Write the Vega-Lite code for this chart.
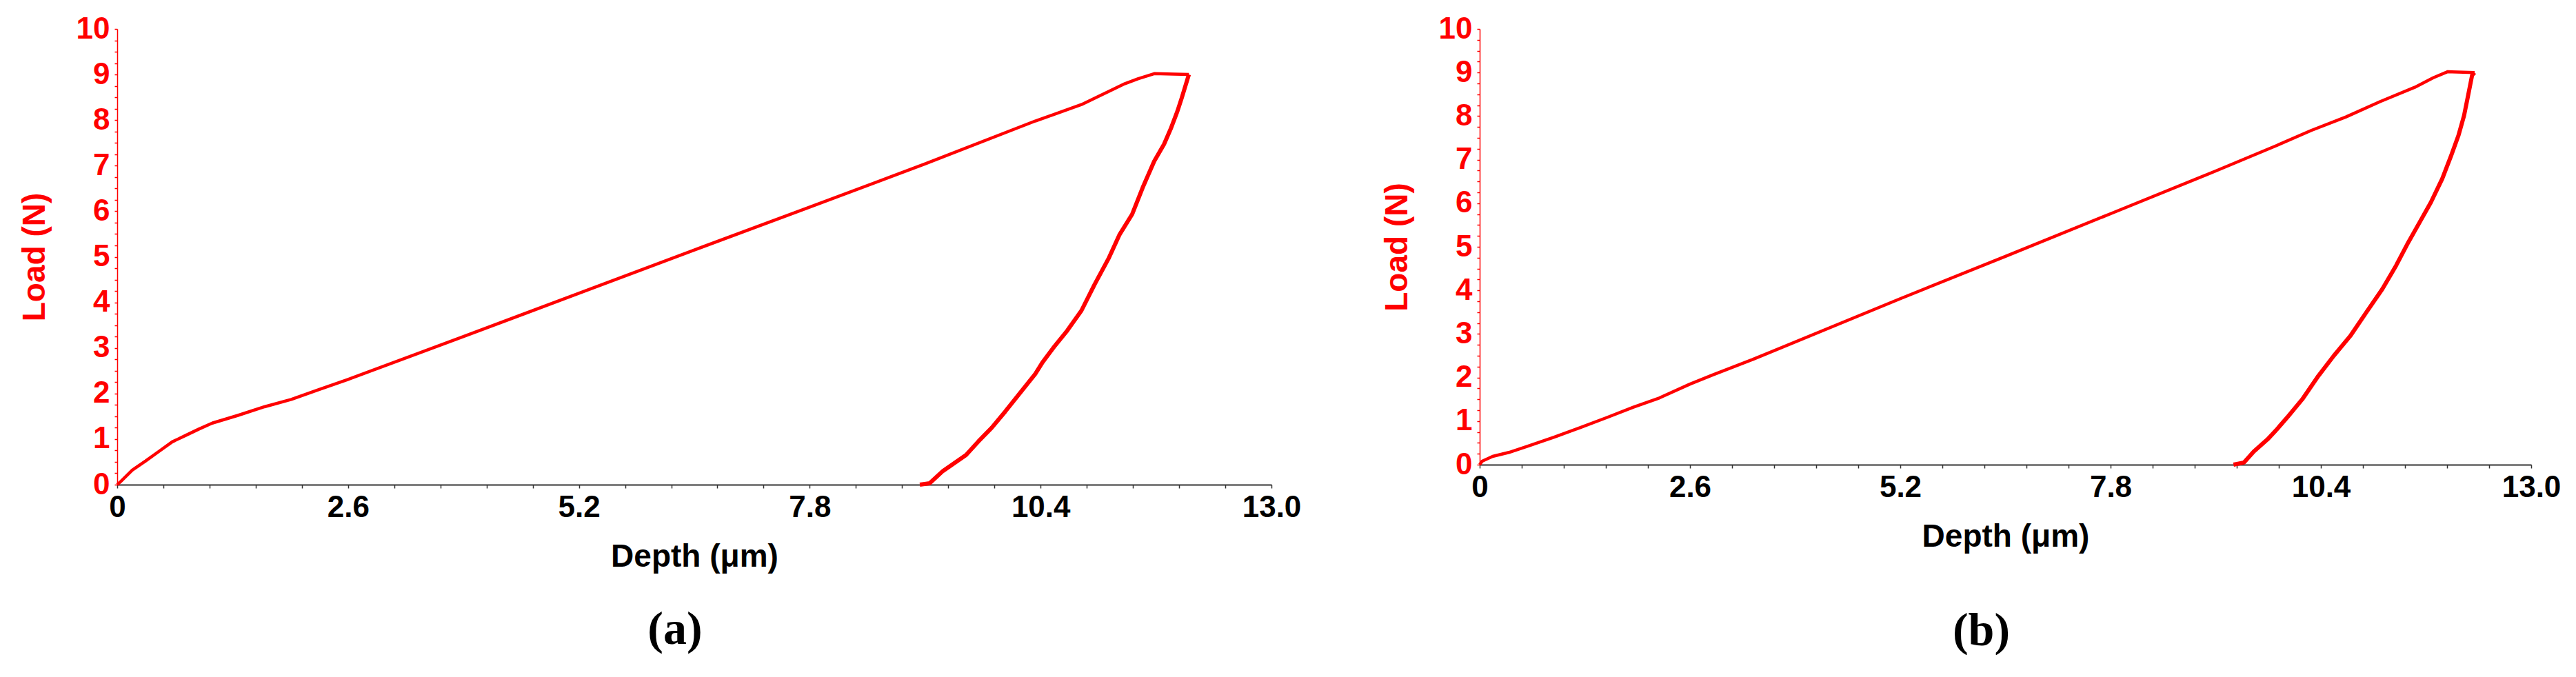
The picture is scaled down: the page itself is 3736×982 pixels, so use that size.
{
  "$schema": "https://vega.github.io/schema/vega-lite/v6.json",
  "background": "white",
  "padding": {"left": 27, "top": 20, "right": 0, "bottom": 0},
  "spacing": 116,
  "datasets": {
    "a": [
      {"phase": "loading", "depth": 0, "load": 0},
      {"phase": "loading", "depth": 0.04, "load": 0.07},
      {"phase": "loading", "depth": 0.17, "load": 0.32},
      {"phase": "loading", "depth": 0.32, "load": 0.52},
      {"phase": "loading", "depth": 0.47, "load": 0.73},
      {"phase": "loading", "depth": 0.62, "load": 0.94},
      {"phase": "loading", "depth": 0.77, "load": 1.08},
      {"phase": "loading", "depth": 0.92, "load": 1.22},
      {"phase": "loading", "depth": 1.07, "load": 1.35},
      {"phase": "loading", "depth": 1.36, "load": 1.52},
      {"phase": "loading", "depth": 1.66, "load": 1.71},
      {"phase": "loading", "depth": 1.96, "load": 1.87},
      {"phase": "loading", "depth": 2.26, "load": 2.08},
      {"phase": "loading", "depth": 2.6, "load": 2.31},
      {"phase": "loading", "depth": 3.9, "load": 3.25},
      {"phase": "loading", "depth": 5.2, "load": 4.2},
      {"phase": "loading", "depth": 6.5, "load": 5.15},
      {"phase": "loading", "depth": 7.8, "load": 6.09},
      {"phase": "loading", "depth": 9.1, "load": 7.04},
      {"phase": "loading", "depth": 10.34, "load": 7.98},
      {"phase": "loading", "depth": 10.86, "load": 8.34},
      {"phase": "loading", "depth": 11.35, "load": 8.8},
      {"phase": "loading", "depth": 11.5, "load": 8.91},
      {"phase": "loading", "depth": 11.6, "load": 8.97},
      {"phase": "loading", "depth": 11.68, "load": 9.02},
      {"phase": "loading", "depth": 11.9, "load": 9.01},
      {"phase": "loading", "depth": 12.07, "load": 9.0},
      {"phase": "unloading", "depth": 12.07, "load": 9.0},
      {"phase": "unloading", "depth": 11.99, "load": 8.49},
      {"phase": "unloading", "depth": 11.94, "load": 8.19},
      {"phase": "unloading", "depth": 11.87, "load": 7.83},
      {"phase": "unloading", "depth": 11.79, "load": 7.47},
      {"phase": "unloading", "depth": 11.68, "load": 7.1},
      {"phase": "unloading", "depth": 11.55, "load": 6.52},
      {"phase": "unloading", "depth": 11.43, "load": 5.93},
      {"phase": "unloading", "depth": 11.29, "load": 5.49},
      {"phase": "unloading", "depth": 11.17, "load": 4.98},
      {"phase": "unloading", "depth": 11.01, "load": 4.4},
      {"phase": "unloading", "depth": 10.86, "load": 3.82},
      {"phase": "unloading", "depth": 10.7, "load": 3.38},
      {"phase": "unloading", "depth": 10.55, "load": 3.02},
      {"phase": "unloading", "depth": 10.42, "load": 2.68},
      {"phase": "unloading", "depth": 10.34, "load": 2.43},
      {"phase": "unloading", "depth": 10.0, "load": 1.6},
      {"phase": "unloading", "depth": 9.85, "load": 1.25},
      {"phase": "unloading", "depth": 9.7, "load": 0.95},
      {"phase": "unloading", "depth": 9.56, "load": 0.65},
      {"phase": "unloading", "depth": 9.3, "load": 0.3},
      {"phase": "unloading", "depth": 9.15, "load": 0.03},
      {"phase": "unloading", "depth": 9.04, "load": 0}
    ],
    "b": [
      {"phase": "loading", "depth": 0, "load": 0},
      {"phase": "loading", "depth": 0.03, "load": 0.08},
      {"phase": "loading", "depth": 0.16, "load": 0.19},
      {"phase": "loading", "depth": 0.36, "load": 0.28},
      {"phase": "loading", "depth": 0.59, "load": 0.42},
      {"phase": "loading", "depth": 0.92, "load": 0.63},
      {"phase": "loading", "depth": 1.24, "load": 0.85},
      {"phase": "loading", "depth": 1.57, "load": 1.08},
      {"phase": "loading", "depth": 1.9, "load": 1.32},
      {"phase": "loading", "depth": 2.22, "load": 1.53},
      {"phase": "loading", "depth": 2.6, "load": 1.85},
      {"phase": "loading", "depth": 2.88, "load": 2.06},
      {"phase": "loading", "depth": 3.37, "load": 2.41},
      {"phase": "loading", "depth": 5.2, "load": 3.81},
      {"phase": "loading", "depth": 6.5, "load": 4.78},
      {"phase": "loading", "depth": 7.8, "load": 5.76},
      {"phase": "loading", "depth": 9.1, "load": 6.74},
      {"phase": "loading", "depth": 9.86, "load": 7.33},
      {"phase": "loading", "depth": 10.28, "load": 7.67},
      {"phase": "loading", "depth": 10.71, "load": 7.98},
      {"phase": "loading", "depth": 11.13, "load": 8.33},
      {"phase": "loading", "depth": 11.56, "load": 8.66},
      {"phase": "loading", "depth": 11.79, "load": 8.88},
      {"phase": "loading", "depth": 11.97, "load": 9.02},
      {"phase": "loading", "depth": 12.3, "load": 9.0},
      {"phase": "unloading", "depth": 12.3, "load": 9.0},
      {"phase": "unloading", "depth": 12.27, "load": 8.94},
      {"phase": "unloading", "depth": 12.22, "load": 8.47},
      {"phase": "unloading", "depth": 12.17, "load": 8.01},
      {"phase": "unloading", "depth": 12.1, "load": 7.55},
      {"phase": "unloading", "depth": 12.01, "load": 7.09},
      {"phase": "unloading", "depth": 11.9, "load": 6.56},
      {"phase": "unloading", "depth": 11.76, "load": 6.02},
      {"phase": "unloading", "depth": 11.62, "load": 5.56},
      {"phase": "unloading", "depth": 11.48, "load": 5.1},
      {"phase": "unloading", "depth": 11.33, "load": 4.57},
      {"phase": "unloading", "depth": 11.16, "load": 4.03},
      {"phase": "unloading", "depth": 10.96, "load": 3.49},
      {"phase": "unloading", "depth": 10.77, "load": 2.97},
      {"phase": "unloading", "depth": 10.56, "load": 2.5},
      {"phase": "unloading", "depth": 10.37, "load": 2.04},
      {"phase": "unloading", "depth": 10.17, "load": 1.5},
      {"phase": "unloading", "depth": 10.0, "load": 1.12},
      {"phase": "unloading", "depth": 9.86, "load": 0.82},
      {"phase": "unloading", "depth": 9.74, "load": 0.58},
      {"phase": "unloading", "depth": 9.57, "load": 0.3},
      {"phase": "unloading", "depth": 9.45, "load": 0.05},
      {"phase": "unloading", "depth": 9.32, "load": 0}
    ]
  },
  "hconcat": [
    {
      "width": 1674,
      "height": 661,
      "data": {"name": "a"},
      "title": {"text": "(a)", "orient": "bottom", "anchor": "middle", "offset": 50, "dx": -28, "font": "Liberation Serif", "fontSize": 68, "fontWeight": "bold", "color": "black"},
      "mark": {"type": "line", "color": "#ff0000", "strokeJoin": "round"},
      "encoding": {
        "x": {"field": "depth", "type": "quantitative", "scale": {"domain": [0, 13], "nice": false, "zero": false},
          "axis": {"title": "Depth (μm)", "values": [0, 0.52, 1.04, 1.56, 2.08, 2.6, 3.12, 3.64, 4.16, 4.68, 5.2, 5.72, 6.24, 6.76, 7.28, 7.8, 8.32, 8.84, 9.36, 9.88, 10.4, 10.92, 11.44, 11.96, 12.48, 13.0],
            "labelExpr": "abs(datum.value/2.6 - round(datum.value/2.6)) < 0.001 ? (datum.value == 0 ? '0' : format(datum.value, '.1f')) : ''"}},
        "y": {"field": "load", "type": "quantitative", "scale": {"domain": [0, 10], "nice": false},
          "axis": {"title": "Load (N)", "values": [0, 0.25, 0.5, 0.75, 1, 1.25, 1.5, 1.75, 2, 2.25, 2.5, 2.75, 3, 3.25, 3.5, 3.75, 4, 4.25, 4.5, 4.75, 5, 5.25, 5.5, 5.75, 6, 6.25, 6.5, 6.75, 7, 7.25, 7.5, 7.75, 8, 8.25, 8.5, 8.75, 9, 9.25, 9.5, 9.75, 10],
            "labelExpr": "datum.value % 1 == 0 ? format(datum.value, 'd') : ''"}},
        "detail": {"field": "phase"},
        "strokeWidth": {"field": "phase", "type": "nominal", "scale": {"domain": ["loading", "unloading"], "range": [4.5, 6]}, "legend": null}
      }
    },
    {
      "width": 1525,
      "height": 632,
      "data": {"name": "b"},
      "title": {"text": "(b)", "orient": "bottom", "anchor": "middle", "offset": 81, "dx": -35, "font": "Liberation Serif", "fontSize": 68, "fontWeight": "bold", "color": "black"},
      "mark": {"type": "line", "color": "#ff0000", "strokeJoin": "round"},
      "encoding": {
        "x": {"field": "depth", "type": "quantitative", "scale": {"domain": [0, 13], "nice": false, "zero": false},
          "axis": {"title": "Depth (μm)", "values": [0, 0.52, 1.04, 1.56, 2.08, 2.6, 3.12, 3.64, 4.16, 4.68, 5.2, 5.72, 6.24, 6.76, 7.28, 7.8, 8.32, 8.84, 9.36, 9.88, 10.4, 10.92, 11.44, 11.96, 12.48, 13.0],
            "labelExpr": "abs(datum.value/2.6 - round(datum.value/2.6)) < 0.001 ? (datum.value == 0 ? '0' : format(datum.value, '.1f')) : ''"}},
        "y": {"field": "load", "type": "quantitative", "scale": {"domain": [0, 10], "nice": false},
          "axis": {"title": "Load (N)", "values": [0, 0.25, 0.5, 0.75, 1, 1.25, 1.5, 1.75, 2, 2.25, 2.5, 2.75, 3, 3.25, 3.5, 3.75, 4, 4.25, 4.5, 4.75, 5, 5.25, 5.5, 5.75, 6, 6.25, 6.5, 6.75, 7, 7.25, 7.5, 7.75, 8, 8.25, 8.5, 8.75, 9, 9.25, 9.5, 9.75, 10],
            "labelExpr": "datum.value % 1 == 0 ? format(datum.value, 'd') : ''"}},
        "detail": {"field": "phase"},
        "strokeWidth": {"field": "phase", "type": "nominal", "scale": {"domain": ["loading", "unloading"], "range": [4.5, 6]}, "legend": null}
      }
    }
  ],
  "config": {
    "view": {"stroke": null},
    "font": "Liberation Sans",
    "axis": {"grid": false, "labelFont": "Liberation Sans", "titleFont": "Liberation Sans", "labelFontWeight": "bold", "titleFontWeight": "bold", "labelFontSize": 44, "titleFontSize": 46, "labelOverlap": false, "labelFlush": false, "labelBound": false},
    "axisX": {"domainColor": "#333333", "domainWidth": 2, "tickColor": "#333333", "tickWidth": 1.5, "tickSize": 5, "labelColor": "#000000", "titleColor": "#000000", "labelPadding": 6, "titlePadding": 27},
    "axisY": {"domainColor": "#ff0000", "domainWidth": 1.5, "tickColor": "#ff0000", "tickWidth": 1.5, "tickSize": 4, "labelColor": "#ff0000", "titleColor": "#ff0000", "labelPadding": 7, "titlePadding": 36}
  }
}
